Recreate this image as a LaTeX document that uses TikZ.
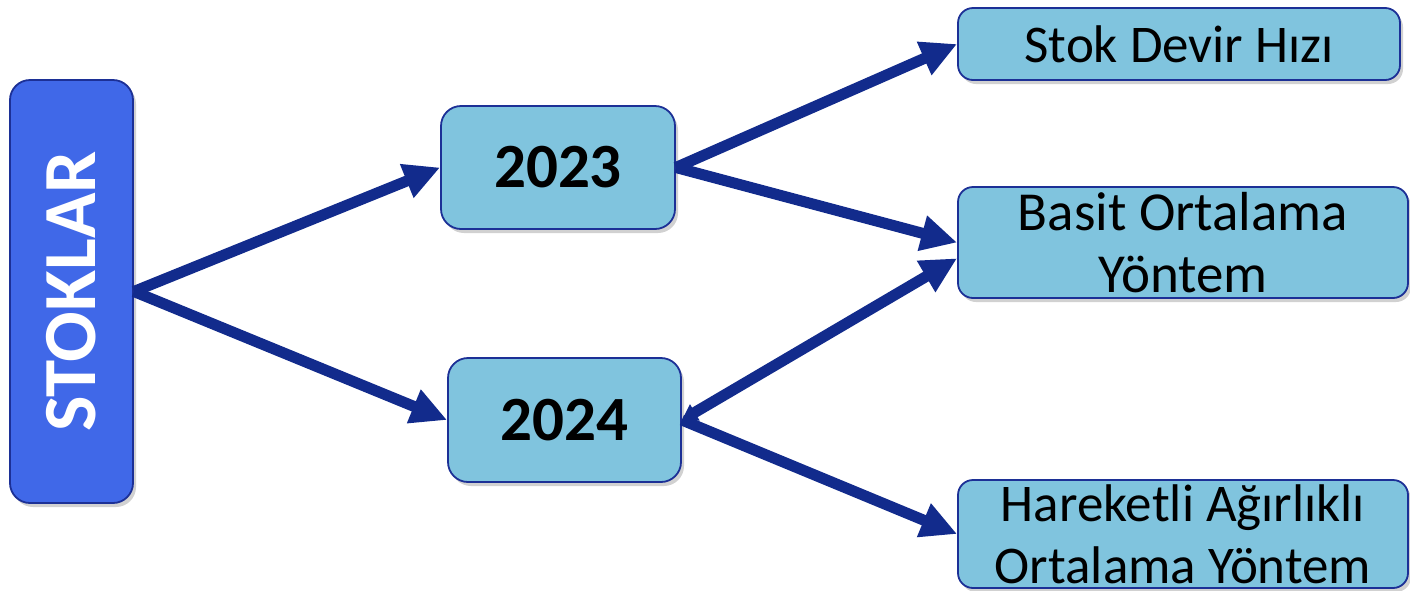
\documentclass[tikz,border=0pt]{standalone}
\usepackage{fontspec}
\usepackage{graphicx}
\setmainfont{Carlito}
\usetikzlibrary{arrows.meta,shadows}

\definecolor{oknavy}{RGB}{18,43,140}
\definecolor{kutublue}{RGB}{128,196,222}
\definecolor{stokblue}{RGB}{64,104,232}
\definecolor{kenarblue}{RGB}{28,48,150}

\tikzset{
    kutu/.style={draw=kenarblue, line width=1.8pt, fill=kutublue, rounded corners=15pt,
        align=center, inner sep=0pt,
        drop shadow={shadow xshift=3pt, shadow yshift=-4pt, opacity=0.3, fill=black!60}},
    yil/.style={kutu, rounded corners=20pt, font=\bfseries\fontsize{63}{70}\selectfont},
    yontem/.style={kutu, font=\fontsize{53}{62}\selectfont},
    ok/.style={draw=oknavy, line width=11pt, -{Triangle[length=36pt,width=34pt]}},
}

\begin{document}
\begin{tikzpicture}[x=1pt, y=-1pt]
    \useasboundingbox (0,0) rectangle (1410,590);

    \node[kutu, fill=stokblue, rounded corners=20pt, minimum width=123pt, minimum height=423pt,
          text=white, font=\bfseries\fontsize{75}{80}\selectfont]
        (stoklar) at (71.5,291.5) {\rotatebox{90}{STOKLAR}};

    \node[yil, minimum width=234pt, minimum height=123pt] (y2023) at (558,167.5) {2023};
    \node[yil, minimum width=233pt, minimum height=124pt] (y2024) at (564.5,420) {2024};

    \node[yontem, minimum width=442pt, minimum height=72pt] (devir) at (1179,44) {Stok Devir Hızı};
    \node[yontem, font=\fontsize{55}{62}\selectfont, minimum width=450pt, minimum height=111pt]
        (basit) at (1183,242.5) {Basit Ortalama\\Yöntem};
    \node[yontem, minimum width=450pt, minimum height=108pt]
        (hareketli) at (1183,534) {Hareketli Ağırlıklı\\Ortalama Yöntem};

    \draw[ok] (stoklar.east) -- (y2023.west);
    \draw[ok] (stoklar.east) -- (y2024.west);
    \draw[ok] (y2023.east) -- (devir.west);
    \draw[ok] (y2023.east) -- (basit.west);
    \draw[ok, {Triangle[length=15pt,width=18pt]}-{Triangle[length=36pt,width=34pt]}]
        (y2024.east) -- (basit.184);
    \draw[ok] (y2024.east) -- (hareketli.west);
\end{tikzpicture}
\end{document}
